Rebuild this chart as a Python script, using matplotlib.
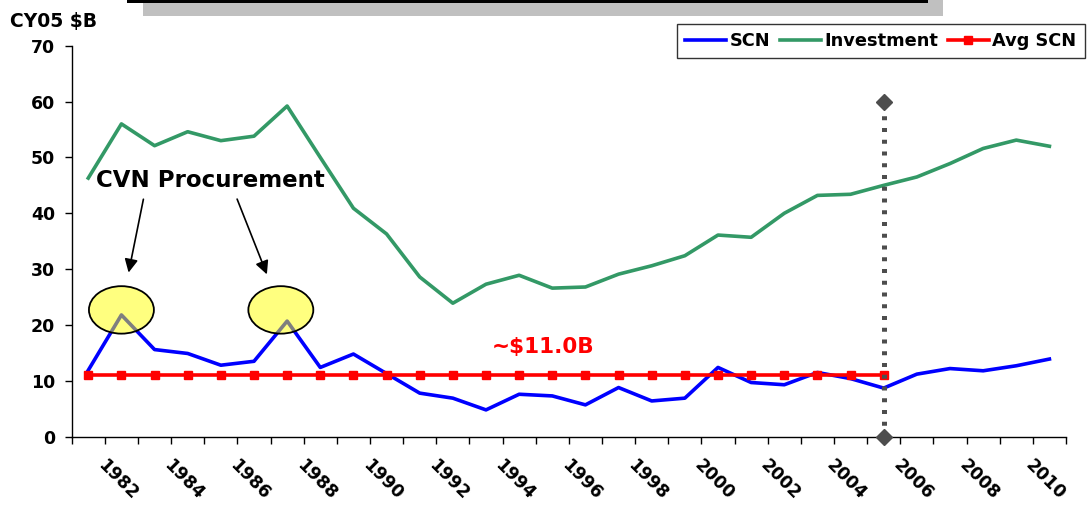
import numpy as np
import matplotlib.pyplot as plt
from matplotlib.patches import Ellipse, Rectangle
from matplotlib.transforms import ScaledTranslation

plt.rcParams['font.family'] = ['DejaVu Sans']
plt.rcParams['font.weight'] = 'bold'

# data (CY05 $B)
years = list(range(1981, 2011))
scn = [11.9, 21.8, 15.6, 14.9, 12.8, 13.5, 20.7, 12.4, 14.8, 11.3,
       7.8, 6.9, 4.8, 7.6, 7.3, 5.7, 8.8, 6.4, 6.9, 12.4,
       9.7, 9.3, 11.5, 10.4, 8.7, 11.2, 12.2, 11.8, 12.7, 13.9]
investment = [46.3, 56.0, 52.1, 54.6, 53.0, 53.8, 59.2, 50.0, 40.9, 36.3,
              28.6, 23.9, 27.3, 28.9, 26.6, 26.8, 29.1, 30.6, 32.4, 36.1,
              35.7, 40.0, 43.2, 43.4, 45.0, 46.5, 48.9, 51.6, 53.1, 52.0]
avg_scn = [11.0, 11.0, 11.0, 11.0, 11.0, 11.0, 11.0, 11.0, 11.0, 11.0,
           11.0, 11.0, 11.0, 11.0, 11.0, 11.0, 11.0, 11.0, 11.0, 11.0,
           11.0, 11.0, 11.0, 11.0, 11.0]
marker_year = 2005
marker_range = [0, 60]
cvn_years = [1982, 1987]

BLUE = "#0000FF"
GREEN = "#339966"
RED = "#FF0000"
GRAY = "#4D4D4D"

W, H = 1087, 505
fig = plt.figure(figsize=(W / 100, H / 100), dpi=100)
ax = fig.add_axes([71.7 / W, 1 - 436.7 / H, (1066 - 71.7) / W, (436.7 - 45.7) / H])

idx = np.arange(len(years))
ax.plot(idx, investment, color=GREEN, lw=2.6, label='Investment', zorder=2)
ax.plot(idx, scn, color=BLUE, lw=2.6, label='SCN', zorder=3)
ax.plot(idx[:len(avg_scn)], avg_scn, color=RED, lw=2.6, marker='s', markersize=5.5,
        label='Avg SCN', zorder=4, clip_on=False)

# 2005 divider
mx = years.index(marker_year)
ax.plot([mx, mx], marker_range, color=GRAY, lw=3.6, linestyle=(0, (0.8, 1.55)),
        zorder=6, clip_on=False)
ax.plot([mx, mx], marker_range, color=GRAY, lw=0, marker='D', markersize=8.5,
        zorder=7, clip_on=False)

# CVN procurement highlights
for cy, dx in zip(cvn_years, [0.0, -0.19]):
    ci = years.index(cy)
    ax.add_patch(Ellipse((ci + dx, 22.7), 1.96, 8.5, facecolor=(1, 1, 0, 0.5),
                         edgecolor='black', lw=1.3, zorder=5))
ax.text(0.23, 44.75, 'CVN Procurement', fontsize=16.5, fontweight='bold',
        ha='left', va='baseline', zorder=8)
ax.annotate('', xy=(1.2, 28.9), xytext=(1.68, 43.0),
            arrowprops=dict(arrowstyle='-|>', color='black', lw=1.2, mutation_scale=20))
ax.annotate('', xy=(5.42, 28.6), xytext=(4.46, 43.0),
            arrowprops=dict(arrowstyle='-|>', color='black', lw=1.2, mutation_scale=20))
ax.text(12.18, 15.0, '~$11.0B', fontsize=15.5, fontweight='bold', color=RED,
        ha='left', va='baseline', zorder=8)

# axes formatting
ax.set_xlim(-0.5, len(years) - 0.5)
ax.set_ylim(0, 70)
ax.set_yticks(range(0, 80, 10))
ax.set_xticks(np.arange(-0.5, len(years), 1))
ax.set_xticks(idx[1::2], labels=[str(y) for y in years[1::2]], minor=True)
ax.tick_params(axis='x', which='major', length=5, width=1, labelbottom=False)
ax.tick_params(axis='x', which='minor', length=0, pad=14, labelsize=12.5)
ax.tick_params(axis='y', length=5, width=1, pad=7, labelsize=12.5)
shift = ScaledTranslation(-4 / 100, 0, fig.dpi_scale_trans)
for lbl in ax.get_xticklabels(minor=True):
    lbl.set_rotation(-45)
    lbl.set_fontweight('bold')
    lbl.set_transform(lbl.get_transform() + shift)
for lbl in ax.get_yticklabels():
    lbl.set_fontweight('bold')
for s in ['top', 'right']:
    ax.spines[s].set_visible(False)
for s in ['left', 'bottom']:
    ax.spines[s].set_color('black')
    ax.spines[s].set_linewidth(1)

fig.text(10 / W, 1 - 26.7 / H, 'CY05 $B', fontsize=13.5, fontweight='bold',
         ha='left', va='baseline')

# legend (its frame runs off the right edge like the original)
handles, labels = ax.get_legend_handles_labels()
order = [labels.index(n) for n in ['SCN', 'Investment', 'Avg SCN']]
leg = fig.legend([handles[i] for i in order], [labels[i] for i in order],
                 loc='upper left', bbox_to_anchor=(677 / W, 1 - 24 / H), ncol=3,
                 fontsize=12.8, frameon=True, fancybox=False, numpoints=1,
                 handlelength=2.3, handletextpad=0.2, columnspacing=0.55,
                 borderpad=0.45, borderaxespad=0)
leg.get_frame().set_edgecolor('black')
leg.get_frame().set_linewidth(1)
for t in leg.get_texts():
    t.set_fontweight('bold')

# remnant of title box at the top edge
fig.patches.append(Rectangle((143 / W, 1 - 16 / H), 800 / W, 16 / H,
                             transform=fig.transFigure, facecolor='#C0C0C0',
                             edgecolor='none', zorder=0))
fig.patches.append(Rectangle((127 / W, 1 - 2.5 / H), 801 / W, 2.5 / H,
                             transform=fig.transFigure, facecolor='black',
                             edgecolor='none', zorder=1))

fig.savefig('out.png', dpi=100)
